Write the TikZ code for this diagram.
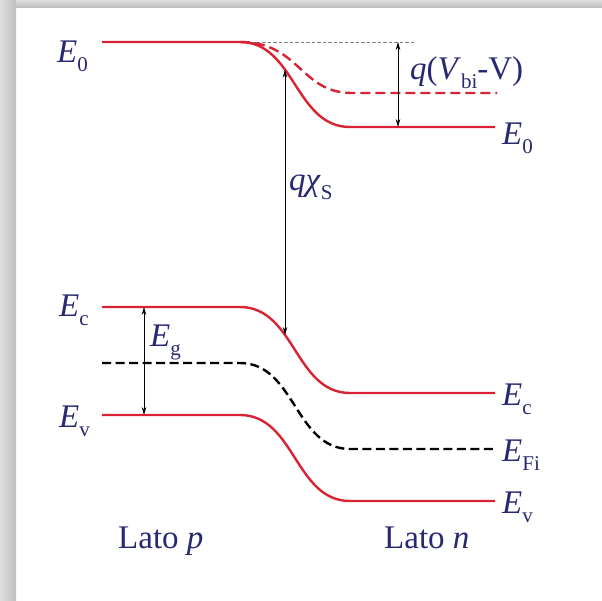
\documentclass[tikz,border=0pt]{standalone}
\usepackage{fontspec}
\setmainfont{Liberation Serif}
\usetikzlibrary{arrows.meta,intersections}
\definecolor{txt}{RGB}{40,40,115}
\definecolor{bandred}{RGB}{215,35,50}
\newcommand\lowsub[1]{\raisebox{-0.3em}{\fontsize{21}{21}\selectfont #1}}
\begin{document}
\begin{tikzpicture}[x=1pt,y=-1pt,
  lbl/.style={text=txt, inner sep=0pt, font=\fontsize{33}{38}\selectfont},
  bandline/.style={draw=bandred, line width=2.4pt},
  bandfade/.style={draw=bandred, line width=2.4pt, dash pattern=on 10pt off 5pt},
  fermi/.style={draw=black, line width=2.4pt, dash pattern=on 9pt off 4.5pt},
  refline/.style={draw=gray, line width=0.9pt, dash pattern=on 3.5pt off 2pt},
  dim/.style={draw=black, line width=0.8pt, {Stealth[length=8pt,width=4.5pt]}-{Stealth[length=8pt,width=4.5pt]}}
]
% background and frame
\fill[white] (0,0) rectangle (602,600);
\shade[left color=gray!25, right color=gray!50] (0,0) rectangle (16,600);
\shade[top color=gray!25, bottom color=gray!50] (16,0) rectangle (602,7);
\useasboundingbox (0,0) rectangle (602,600);

% coordinates
\coordinate (e0a) at (102,42);
\coordinate (e0b) at (240,42);
\coordinate (e0c) at (350,127);
\coordinate (e0d) at (495,127);
\coordinate (e0e) at (352,93);
\coordinate (e0f) at (497,93);
\coordinate (e0g) at (415,42);
\coordinate (eca) at (102,307);
\coordinate (ecb) at (240,307);
\coordinate (ecc) at (350,393);
\coordinate (ecd) at (495,393);
\coordinate (efa) at (102,363);
\coordinate (efb) at (240,363);
\coordinate (efc) at (350,449);
\coordinate (efd) at (495,449);
\coordinate (eva) at (102,415);
\coordinate (evb) at (240,415);
\coordinate (evc) at (350,501);
\coordinate (evd) at (495,501);

% levels
\draw[refline] (e0b) -- (e0g);
\draw[bandfade] (e0b) .. controls (300,42) and (300,93) .. (e0e) -- (e0f);
\draw[bandline, name path=e0] (e0a) -- (e0b) .. controls (295,42) and (295,127) .. (e0c) -- (e0d);
\draw[bandline, name path=ec] (eca) -- (ecb) .. controls (295,307) and (295,393) .. (ecc) -- (ecd);
\draw[fermi] (efa) -- (efb) .. controls (295,363) and (295,449) .. (efc) -- (efd);
\draw[bandline] (eva) -- (evb) .. controls (295,415) and (295,501) .. (evc) -- (evd);

% dimension arrows
\path[name path=vchi] (285,0) -- (285,600);
\path[name intersections={of=e0 and vchi, by=chitop}];
\path[name intersections={of=ec and vchi, by=chibot}];
\draw[dim] (chitop) -- (chibot);
\coordinate (vbitop) at (398,42);
\coordinate (vbibot) at (398,127);
\draw[dim] (vbitop) -- (vbibot);
\coordinate (egtop) at (144,307);
\coordinate (egbot) at (144,415);
\draw[dim] (egtop) -- (egbot);

% labels
\node[lbl, anchor=base west] (l0l) at (57,62) {\textit{E}\lowsub{0}};
\node[lbl, anchor=base west] (lcl) at (59,316) {\textit{E}\lowsub{c}};
\node[lbl, anchor=base west] (lvl) at (59,427) {\textit{E}\lowsub{v}};
\node[lbl, anchor=base west] (l0r) at (502,144) {\textit{E}\lowsub{0}};
\node[lbl, anchor=base west] (lcr) at (502,405) {\textit{E}\lowsub{c}};
\node[lbl, anchor=base west] (lfr) at (502,461) {\textit{E}\lowsub{Fi}};
\node[lbl, anchor=base west] (lvr) at (502,513) {\textit{E}\lowsub{v}};
\node[lbl, anchor=base west] (lg) at (150,346) {\textit{E}\lowsub{g}};
\node[lbl, anchor=base west] (lvbi) at (410,79) {\textit{q}(\textit{V}\lowsub{bi}-V)};
\node[lbl, anchor=base west] (lchi) at (289,190) {\textit{qχ}\lowsub{S}};
\node[lbl, anchor=base west] (lp) at (118,548) {Lato \textit{p}};
\node[lbl, anchor=base west] (ln) at (384,548) {Lato \textit{n}};
\end{tikzpicture}
\end{document}
